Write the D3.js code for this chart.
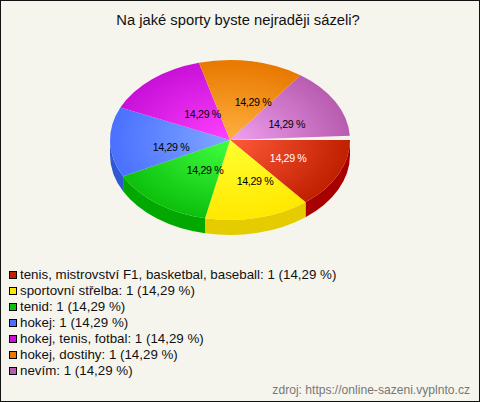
<!DOCTYPE html>
<html><head><meta charset="utf-8">
<script src="https://cdn.jsdelivr.net/npm/d3@7"></script>
<style>html,body{margin:0;padding:0;background:#f5f5ee}svg{display:block}text{font-family:"Liberation Sans",Arial,sans-serif}</style>
</head><body><svg id="c" width="480" height="402"></svg>
<script>
const title = "Na jaké sporty byste nejraději sázeli?";
const source = "zdroj: https://online-sazeni.vyplnto.cz";
const categories = ["tenis, mistrovství F1, basketbal, baseball","sportovní střelba","tenid","hokej","hokej, tenis, fotbal","hokej, dostihy","nevím"];
const values = [1,1,1,1,1,1,1];
const percentLabels = ["14,29 %","14,29 %","14,29 %","14,29 %","14,29 %","14,29 %","14,29 %"];
const edgeColors = ["#c02000","#ffe800","#0cc00c","#4a70ff","#c810d8","#e87800","#b85cb0"];
const innerColors = ["#ff5a3a","#ffff30","#40ff40","#80a8ff","#ff40ff","#ffb040","#f0a0f0"];
const sideColors = ["#a80000","#e4cc00","#00a800","#3058d0","#a800b8","#c06000","#9848a0"];
const labelColors = ["#ffffff","#000000","#000000","#000000","#000000","#000000","#000000"];
const labelNudgeX = [4,11,11.5,1,11.6,12.1,4];
const labelNudgeY = [1.5,2.4,-1.7,6.7,5.4,1.5,3.1];

const W=480,H=402,cx=230,cy=140,rx=120,ry=80,depth=15;
const yS=ry/rx;
const svg=d3.select("#c");
svg.append("rect").attr("x",.5).attr("y",.5).attr("width",W-1).attr("height",H-1).attr("fill","#f5f5ee").attr("stroke","#111");
svg.append("text").attr("x",238).attr("y",25).attr("text-anchor","middle").attr("font-size",14.75).attr("fill","#111").text(title);

// the reference truncates each slice to whole degrees, leaving a small gap before 0°
const total=d3.sum(values);
const deg=Math.PI/180;
let acc=0;
const arcs=values.map((v,i)=>{
  const span=Math.floor(360*v/total)*deg;
  const d={i,startAngle:acc+Math.PI/2,endAngle:acc+span+Math.PI/2};
  acc+=span;
  return d;
});
const arc=d3.arc().innerRadius(0).outerRadius(rx);
const defs=svg.append("defs");
arcs.forEach(d=>{
  const g=defs.append("radialGradient").attr("id","g"+d.i).attr("gradientUnits","userSpaceOnUse").attr("cx",0).attr("cy",0).attr("r",rx);
  g.append("stop").attr("offset",0).attr("stop-color",innerColors[d.i]);
  g.append("stop").attr("offset",1).attr("stop-color",edgeColors[d.i]);
});
const root=svg.append("g");
arcs.forEach(d=>{
  let a0=d.startAngle-Math.PI/2,a1=d.endAngle-Math.PI/2;
  a0=Math.max(a0,0);a1=Math.min(a1,Math.PI);
  if(a0>=a1)return;
  const dd=depth/yS;
  const p=d3.path();
  p.arc(0,0,rx,a0,a1,false);
  p.lineTo(rx*Math.cos(a1),rx*Math.sin(a1)+dd);
  p.arc(0,dd,rx,a1,a0,true);
  p.closePath();
  root.append("g").attr("transform",`translate(${cx},${cy}) scale(1,${yS})`)
    .append("path").attr("d",p.toString()).attr("fill",sideColors[d.i]);
});
arcs.forEach(d=>{
  root.append("g").attr("transform",`translate(${cx},${cy}) scale(1,${yS})`)
    .append("path").attr("d",arc(d)).attr("fill",`url(#g${d.i})`);
});
arcs.forEach(d=>{
  const mid=(d.startAngle+d.endAngle)/2-Math.PI/2;
  svg.append("text").attr("x",cx+rx/2*Math.cos(mid)+labelNudgeX[d.i]).attr("y",cy+ry/2*Math.sin(mid)+labelNudgeY[d.i]+3.5)
    .attr("text-anchor","middle").attr("font-size",10.67).style("letter-spacing","-0.35px").attr("fill",labelColors[d.i]).text(percentLabels[d.i]);
});
const yL=d3.scalePoint().domain(d3.range(categories.length)).range([275,371]);
categories.forEach((c,i)=>{
  svg.append("rect").attr("x",9.5).attr("y",yL(i)-3.5).attr("width",7).attr("height",7).attr("fill",edgeColors[i]).attr("stroke","#000");
  svg.append("text").attr("x",20).attr("y",yL(i)+4).attr("font-size",13.33).attr("fill","#111").text(`${c}: ${values[i]} (${percentLabels[i]})`);
});
svg.append("text").attr("x",470).attr("y",394).attr("text-anchor","end").attr("font-size",12.1).attr("fill","#777").text(source);
</script></body></html>
